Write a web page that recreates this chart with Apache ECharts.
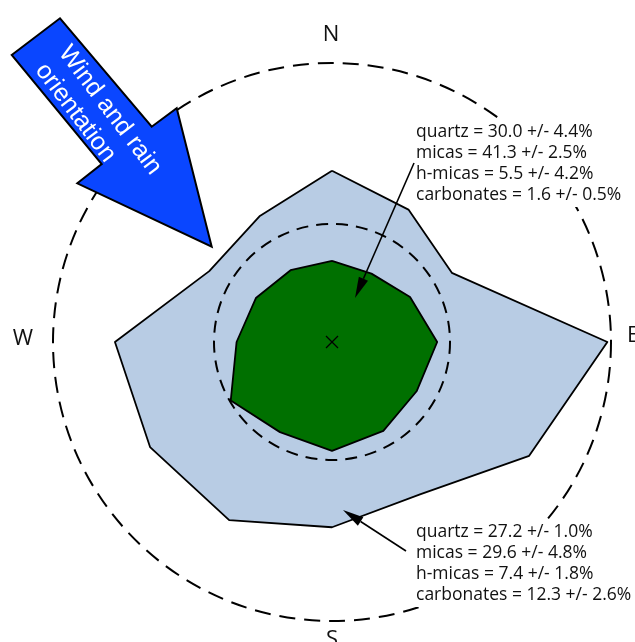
<!DOCTYPE html>
<html>
<head>
<meta charset="utf-8">
<script src="https://cdn.jsdelivr.net/npm/echarts@6/dist/echarts.min.js"></script>
<style>
  html, body { margin: 0; padding: 0; background: #fff; }
  #chart { width: 635px; height: 642px; }
</style>
</head>
<body>
<div id="chart"></div>
<script>
// compass directions, clockwise from N in 30 degree steps
const directions = ['N', '', '', 'E', '', '', 'S', '', '', 'W', '', '']
// outer (light blue) and inner (green) profiles, % of outer ring
const outerValues = [61.4, 54.8, 49.6, 98.7, 81.6, 63.1, 66.4, 73.7, 75.3, 77.8, 50.8, 52.0]
const innerValues = [29.1, 28.3, 32.3, 37.7, 35.1, 36.8, 39.0, 37.3, 41.9, 34.2, 31.5, 29.7]
const ringValue = 42.3 // inner dashed reference ring
const maxValue = 100

const innerLabels = ['quartz = 30.0 +/- 4.4%', 'micas = 41.3 +/- 2.5%', 'h-micas = 5.5 +/- 4.2%', 'carbonates = 1.6 +/- 0.5%']
const outerLabels = ['quartz = 27.2 +/- 1.0%', 'micas = 29.6 +/- 4.8%', 'h-micas = 7.4 +/- 1.8%', 'carbonates = 12.3 +/- 2.6%']

const center = [332, 342]
const radius = 279

// radar runs counter-clockwise, so reorder compass data
const order = directions.map((d, k) => (directions.length - k) % directions.length)
const pick = arr => order.map(i => arr[i])

const chart = echarts.init(document.getElementById('chart'))

// simple arrow (line + head)
const arrow = (x1, y1, x2, y2) => {
  const ang = Math.atan2(y2 - y1, x2 - x1)
  const len = 21, w = 5
  const bx = x2 - len * Math.cos(ang), by = y2 - len * Math.sin(ang)
  return [
    { type: 'line', z: 120, shape: { x1, y1, x2: bx, y2: by }, style: { stroke: '#000', lineWidth: 1.6 } },
    {
      type: 'polygon', z: 120,
      shape: { points: [[x2, y2], [bx + w * Math.sin(ang), by - w * Math.cos(ang)], [bx - w * Math.sin(ang), by + w * Math.cos(ang)]] },
      style: { fill: '#000' }
    }
  ]
}

const textBlock = (x, y, lines) => ({
  type: 'text', x, y, z: 110,
  style: {
    text: lines.join('\n'), font: '17.5px "Open Sans"', lineHeight: 21, fill: '#111',
    textVerticalAlign: 'top', backgroundColor: '#fff', padding: [1, 3]
  }
})

const compass = (t, x, y, align) => ({
  type: 'text', x, y, z: 110,
  style: { text: t, font: '22px "Open Sans"', fill: '#111', textAlign: align || 'center', textVerticalAlign: 'middle' }
})

// filled profile plus a separate outline on top of it
const profile = (name, values, fill, z) => [
  {
    type: 'radar', radarIndex: 0, symbol: 'none', z,
    lineStyle: { width: 0, opacity: 0 },
    areaStyle: { color: fill, opacity: 1 },
    data: [{ value: pick(values), name }]
  },
  {
    type: 'radar', radarIndex: 0, symbol: 'none', z: z + 1,
    lineStyle: { color: '#000', width: 1.8 },
    data: [{ value: pick(values), name: name + '-edge' }]
  }
]

const option = {
  animation: false,
  radar: [
    {
      center, radius,
      shape: 'circle',
      startAngle: 90,
      splitNumber: 1,
      indicator: pick(directions).map(() => ({ name: '', min: 0, max: maxValue })),
      axisName: { show: false },
      axisLine: { show: false },
      axisTick: { show: false },
      axisLabel: { show: false },
      splitArea: { show: false },
      splitLine: { lineStyle: { color: '#000', width: 2, type: [16, 9] } }
    },
    {
      center,
      radius: radius * ringValue / maxValue,
      shape: 'circle',
      splitNumber: 1,
      indicator: directions.map(() => ({ name: '', min: 0, max: 1 })),
      axisName: { show: false },
      axisLine: { show: false },
      splitArea: { show: false },
      splitLine: { lineStyle: { color: '#000', width: 2, type: [12, 8] } },
      z: 5
    }
  ],
  series: [
    ...profile('outer', outerValues, '#b8cce4', 1),
    ...profile('inner', innerValues, '#007000', 6)
  ],
  graphic: [
    compass('N', 331, 35),
    compass('E', 627, 336, 'left'),
    compass('W', 23, 339),
    compass('S', 332, 640),
    // centre mark
    { type: 'line', shape: { x1: center[0] - 6, y1: center[1] - 6, x2: center[0] + 6, y2: center[1] + 6 }, style: { stroke: '#000', lineWidth: 1.3 }, z: 100 },
    { type: 'line', shape: { x1: center[0] - 6, y1: center[1] + 6, x2: center[0] + 6, y2: center[1] - 6 }, style: { stroke: '#000', lineWidth: 1.3 }, z: 100 },
    // wind arrow
    {
      type: 'polygon',
      shape: { points: [[11.7, 55], [60, 18.3], [151.7, 126.7], [176.7, 108.3], [211.7, 246.7], [77.3, 183.3], [101.7, 164]] },
      style: { fill: '#0a46ff', stroke: '#000', lineWidth: 2 },
      z: 100
    },
    {
      type: 'text', x: 75, y: 40, rotation: -53 * Math.PI / 180, z: 101,
      style: { text: 'Wind and rain\norientation', font: '25px "Liberation Sans"', lineHeight: 29, fill: '#fff', textAlign: 'left', textVerticalAlign: 'top' }
    },
    textBlock(413, 121, innerLabels),
    textBlock(413, 521, outerLabels),
    ...arrow(414, 163, 355, 298),
    ...arrow(406, 551, 343, 510)
  ]
}

chart.setOption(option)
</script>
</body>
</html>
